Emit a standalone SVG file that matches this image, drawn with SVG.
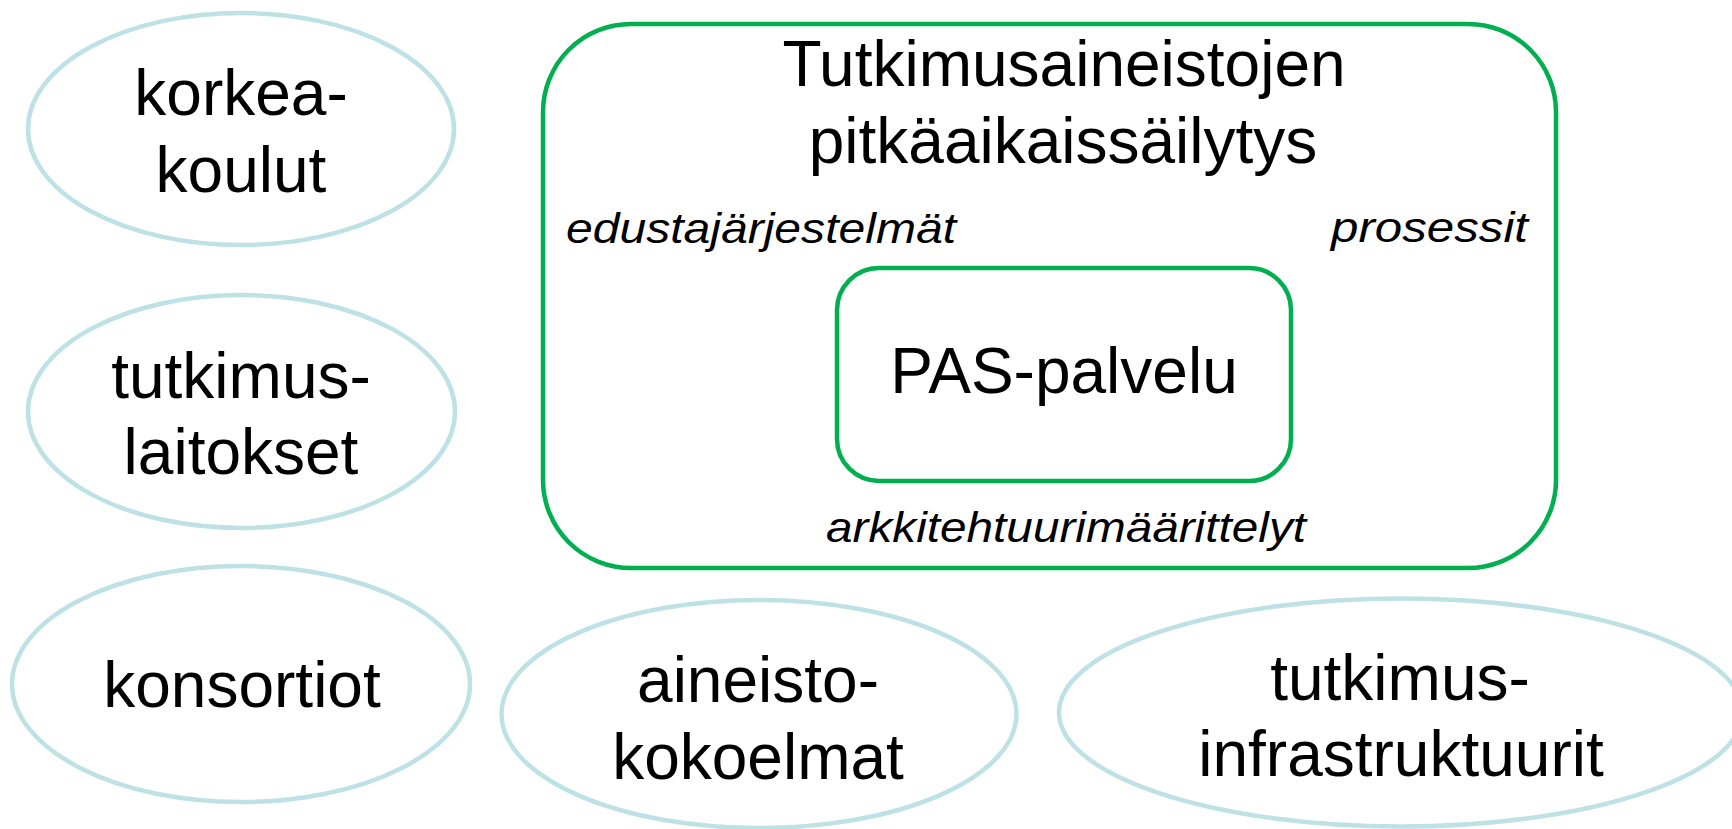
<svg xmlns="http://www.w3.org/2000/svg" width="1732" height="829" viewBox="0 0 1732 829">
<style>
.ell{fill:#ffffff;stroke:#BDE1E5;stroke-width:4.5}
.box{fill:none;stroke:#00B050;stroke-width:4.5}
.t{font-family:"Liberation Sans",Arial,sans-serif;font-size:64px;fill:#000;text-anchor:middle}
.i{font-family:"Liberation Sans",Arial,sans-serif;font-size:42px;font-style:italic;fill:#000}
</style>
<rect width="1732" height="829" fill="#ffffff"/>
<g id="connectors"></g>
<g id="korkeakoulut">
<ellipse class="ell" cx="241" cy="129" rx="213" ry="116"/>
<text class="t" x="241" y="115">korkea-</text>
<text class="t" x="241" y="192">koulut</text>
</g>
<g id="tutkimuslaitokset">
<ellipse class="ell" cx="241.5" cy="411.5" rx="213.5" ry="116.5"/>
<text class="t" x="241" y="398">tutkimus-</text>
<text class="t" x="241" y="474">laitokset</text>
</g>
<g id="konsortiot">
<ellipse class="ell" cx="241" cy="684" rx="229" ry="118"/>
<text class="t" x="242" y="707">konsortiot</text>
</g>
<g id="aineistokokoelmat">
<ellipse class="ell" cx="759" cy="714" rx="257.5" ry="114"/>
<text class="t" x="758" y="702">aineisto-</text>
<text class="t" x="758" y="779">kokoelmat</text>
</g>
<g id="tutkimusinfrastruktuurit">
<ellipse class="ell" cx="1401" cy="712.5" rx="342" ry="114"/>
<text class="t" x="1400" y="700">tutkimus-</text>
<text class="t" x="1401" y="776">infrastruktuurit</text>
</g>
<g id="pitkaaikaissailytys">
<rect class="box" x="543" y="24" width="1013" height="544" rx="88" ry="88"/>
<text class="t" x="1064" y="86">Tutkimusaineistojen</text>
<text class="t" x="1063" y="163">pitkäaikaissäilytys</text>
<text class="i" x="566" y="243" textLength="390" lengthAdjust="spacingAndGlyphs">edustajärjestelmät</text>
<text class="i" x="1331" y="242" textLength="197" lengthAdjust="spacingAndGlyphs">prosessit</text>
<text class="i" x="826" y="542" textLength="480" lengthAdjust="spacingAndGlyphs">arkkitehtuurimäärittelyt</text>
</g>
<g id="pas-palvelu">
<rect class="box" x="837" y="268" width="454" height="213" rx="42" ry="42"/>
<text class="t" x="1064" y="393">PAS-palvelu</text>
</g>
</svg>
